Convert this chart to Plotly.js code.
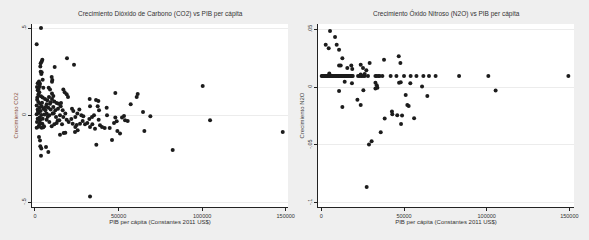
<!DOCTYPE html>
<html>
<head>
<meta charset="utf-8">
<script src="https://cdn.plot.ly/plotly-3.0.1.min.js"></script>
<style>
html,body{margin:0;padding:0;background:#efefef;}
#chart{width:589px;height:240px;}
</style>
</head>
<body>
<div id="chart"></div>
<script>
// Left panel: CO2 growth vs GDP per capita
var co2Gdp = [3600,1000,4390,3990,3390,19150,23340,11770,3190,3390,3990,3790,9980,10370,10170,4590,2390,1600,2990,2790,
  1200,2190,4990,8180,8980,1600,2590,16960,17760,18950,19750,10170,10970,8380,3590,1400,4590,5990,7380,10170,
  11570,12970,14160,15560,8980,6980,1990,2990,1000,3990,2590,1600,3390,2190,1000,3790,4990,6180,7980,9380,
  10970,12170,10570,8580,6980,13770,15360,16560,18150,16960,14960,12570,22140,22940,25340,26530,24140,27730,28930,1600,
  2990,1200,4390,2390,3990,5390,1000,6980,8580,9980,11570,12970,14560,16160,18950,20150,21750,22540,24940,24140,
  26930,28530,29930,31320,32520,34110,35310,32920,34310,25540,23940,14960,17160,18150,32720,36510,37910,32920,37510,38300,
  42890,48080,60850,61450,57260,64640,69030,53270,52070,53870,55460,48080,48880,47280,43090,41700,44690,49280,50870,46080,
  36710,100350,104740,148230,65440,82390,32920,2390,2990,3190,3790,3590,6580,7980,38100,38900,40100,35910,
  1800,2800,4200,1300,3000,5600,4600,2000,6400,7600,9400,11200,13600,2200,5000];
var co2Growth = [0.502,0.408,0.320,0.310,0.299,0.328,0.291,0.278,0.280,0.251,0.247,0.238,0.220,0.203,0.193,0.205,0.195,0.184,0.182,0.167,
  0.163,0.153,0.159,0.159,0.148,0.144,0.132,0.148,0.132,0.121,0.105,0.125,0.111,0.105,0.109,0.102,0.102,0.094,0.086,0.094,
  0.080,0.071,0.067,0.071,0.067,0.063,0.077,0.067,0.057,0.052,0.044,0.033,0.025,0.013,0.006,0.002,0.038,0.029,0.044,0.033,
  0.048,0.029,0.010,0.000,0.010,0.038,0.052,0.029,0.010,-0.010,0.000,-0.010,0.038,0.025,0.010,0.033,-0.010,0.000,-0.006,-0.019,
  -0.029,-0.038,-0.048,-0.059,-0.071,-0.063,-0.071,-0.025,-0.038,-0.063,-0.052,-0.044,-0.029,-0.052,-0.025,-0.038,-0.021,-0.048,-0.056,-0.067,
  -0.048,-0.033,-0.052,-0.044,-0.021,-0.010,0.000,-0.067,-0.052,-0.086,-0.096,-0.111,-0.102,-0.100,0.094,0.088,0.082,0.052,0.052,0.029,
  0.044,0.128,0.105,0.123,0.063,0.019,-0.006,-0.004,-0.013,-0.029,-0.033,-0.013,-0.034,-0.044,0.000,-0.073,-0.073,-0.090,-0.105,-0.142,
  -0.169,0.169,-0.029,-0.096,-0.090,-0.199,-0.466,-0.125,-0.144,-0.178,-0.190,-0.232,-0.182,-0.211,-0.025,-0.057,-0.067,-0.077,
  0.020,-0.012,0.072,0.090,-0.045,0.005,-0.020,0.120,0.048,-0.008,0.075,0.012,-0.030,-0.066,-0.068];

// Right panel: N2O growth vs GDP per capita
var n2oGdp = [200,600,1100,1500,1900,2400,2900,3300,3700,4200,4700,5100,5600,6000,6500,7000,7400,7900,8400,8800,
  9300,9700,10200,10600,11100,11600,12000,12500,13000,13400,13900,14400,14800,15300,15800,16200,16700,17200,17600,18100,
  18600,19000,22200,23200,24200,25200,26200,28200,32700,33500,34500,35300,36900,41900,45400,50000,54000,57500,61700,65100,
  69100,83300,101000,149400,
  5240,8270,2620,4435,9270,10690,12700,10700,11700,15700,18100,18700,23800,25200,27200,29200,37900,46800,47800,4800,
  23800,26200,14100,18500,10700,25400,32700,33500,33900,32700,47000,48000,53800,60900,105400,51000,64100,21800,12700,23800,
  52000,52800,42700,42900,45900,48800,56100,38300,48200,35900,30400,28800,27400];
var n2oGrowth = [0.0097,0.0097,0.0097,0.0097,0.0097,0.0097,0.0097,0.0097,0.0097,0.0097,0.0097,0.0097,0.0097,0.0097,0.0097,0.0097,0.0097,0.0097,0.0097,0.0097,
  0.0097,0.0097,0.0097,0.0097,0.0097,0.0097,0.0097,0.0097,0.0097,0.0097,0.0097,0.0097,0.0097,0.0097,0.0097,0.0097,0.0097,0.0097,0.0097,0.0097,
  0.0097,0.0097,0.0097,0.0097,0.0097,0.0097,0.0097,0.0097,0.0097,0.0097,0.0097,0.0097,0.0097,0.0097,0.0097,0.0097,0.0097,0.0097,0.0097,0.0097,
  0.0097,0.0097,0.0097,0.0097,
  0.0486,0.0434,0.0366,0.0337,0.0366,0.0323,0.0250,0.0186,0.0186,0.0166,0.0186,0.0157,0.0194,0.0166,0.0146,0.0209,0.0237,0.0266,0.0209,0.0117,
  0.0109,0.0114,0.0046,0.0034,-0.0034,-0.0026,0.0037,0.0017,-0.0006,-0.0011,0.0037,0.0043,0.0034,0.0006,-0.0029,-0.0069,-0.0077,-0.0109,-0.0171,-0.0154,
  -0.0154,-0.0163,-0.0211,-0.0234,-0.0243,-0.0246,-0.0269,-0.0271,-0.0320,-0.0390,-0.0469,-0.0497,-0.0863];

var xTickVals = [0, 50000, 100000, 150000];
var xTickText = ['0', '50000', '100000', '150000'];
var co2TickVals = [0.5, 0, -0.5];
var co2TickText = ['.5', '0', '-.5'];
var n2oTickVals = [0.05, 0, -0.05, -0.1];
var n2oTickText = ['.05', '0', '-.05', '-.1'];

var titleCO2 = 'Crecimiento Dióxido de Carbono (CO2) vs PIB per cápita';
var titleN2O = 'Crecimiento Óxido Nitroso (N2O) vs PIB per cápita';
var xTitle = 'PIB per cápita (Constantes 2011 US$)';

var FONT = 'Liberation Sans, Arial, sans-serif';
var marker = {color: '#1c1c1c', size: 4};

var traces = [
  {type: 'scatter', mode: 'markers', x: co2Gdp, y: co2Growth, xaxis: 'x', yaxis: 'y', marker: marker, hoverinfo: 'skip'},
  {type: 'scatter', mode: 'markers', x: n2oGdp, y: n2oGrowth, xaxis: 'x2', yaxis: 'y2', marker: marker, hoverinfo: 'skip'}
];

function xAxis(domain, range, anchor) {
  return {
    domain: domain, range: range, anchor: anchor,
    tickvals: xTickVals, ticktext: xTickText,
    ticks: 'outside', ticklen: 3, tickwidth: 1, tickcolor: '#222',
    tickfont: {family: FONT, size: 5.5, color: '#333'},
    showline: true, linecolor: '#222', linewidth: 1,
    showgrid: false, zeroline: false,
    title: {text: xTitle, font: {family: FONT, size: 6, color: '#333'}, standoff: 2}
  };
}
function yAxis(domain, range, anchor, tv, tt, title, tcol) {
  return {
    domain: domain, range: range, anchor: anchor,
    tickvals: tv, ticktext: tt, tickangle: -90,
    ticks: 'outside', ticklen: 3, tickwidth: 1, tickcolor: '#222',
    tickfont: {family: FONT, size: 5.5, color: '#333'},
    showline: true, linecolor: '#222', linewidth: 1,
    showgrid: true, gridcolor: '#ececec', gridwidth: 1, zeroline: false,
    title: {text: title, font: {family: FONT, size: 6, color: tcol}, standoff: 1}
  };
}

var layout = {
  width: 589, height: 240,
  margin: {l: 0, r: 0, t: 0, b: 0},
  paper_bgcolor: '#efefef',
  plot_bgcolor: '#ffffff',
  showlegend: false,
  xaxis: xAxis([0.0543, 0.489], [-1800, 151400], 'y'),
  yaxis: yAxis([0.1375, 0.9], [-0.527, 0.525], 'x', co2TickVals, co2TickText, 'Crecimiento CO2', '#8a5040'),
  xaxis2: xAxis([0.540, 0.9745], [-2000, 152800], 'y2'),
  yaxis2: yAxis([0.1375, 0.9], [-0.1037, 0.0546], 'x2', n2oTickVals, n2oTickText, 'Crecimiento N2O', '#444'),
  annotations: [
    {text: titleCO2, xref: 'paper', yref: 'paper', x: 0.2717, y: 0.915, xanchor: 'center', yanchor: 'bottom', showarrow: false,
     font: {family: FONT, size: 6.5, color: '#333'}},
    {text: titleN2O, xref: 'paper', yref: 'paper', x: 0.7573, y: 0.915, xanchor: 'center', yanchor: 'bottom', showarrow: false,
     font: {family: FONT, size: 6.5, color: '#333'}}
  ]
};

Plotly.newPlot('chart', traces, layout, {staticPlot: true, displayModeBar: false});
</script>
</body>
</html>
